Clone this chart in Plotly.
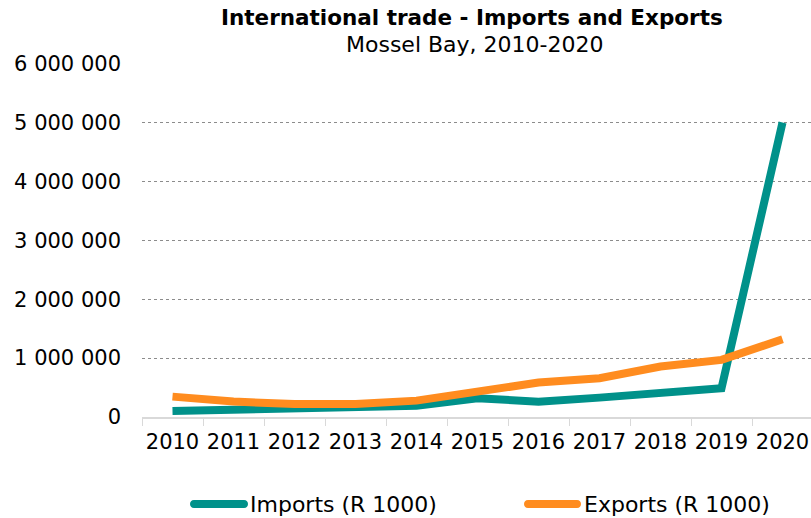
import plotly.graph_objects as go

years = ["2010", "2011", "2012", "2013", "2014", "2015",
         "2016", "2017", "2018", "2019", "2020"]
imports = [102000, 130000, 153000, 170000, 190000, 318000,
           260000, 329000, 420000, 488000, 5000000]
exports = [346000, 262000, 221000, 221000, 278000, 414000,
           584000, 658000, 856000, 970000, 1320000]
series_names = ["Imports (R 1000)", "Exports (R 1000)"]

TEAL = "#00918A"
ORANGE = "#FF8C1F"
FONT = "DejaVu Sans"

W, H = 811, 518
ML, MR, MT, MB = 142, 0, 63, 101
PW, PH = W - ML - MR, H - MT - MB


def px(x):
    return (x - ML) / PW


def py(y):
    return (H - MB - y) / PH


fig = go.Figure()
for vals, name, color in [(imports, series_names[0], TEAL),
                          (exports, series_names[1], ORANGE)]:
    fig.add_trace(go.Scatter(x=years, y=vals, mode="lines", name=name,
                             line=dict(color=color, width=8),
                             showlegend=False))

# Title and subtitle
fig.add_annotation(text="<b>International trade - Imports and Exports</b>",
                   xref="paper", yref="paper", x=px(472), y=py(18),
                   xanchor="center", yanchor="middle", showarrow=False,
                   font=dict(family=FONT, size=21.5, color="#000000"))
fig.add_annotation(text="Mossel Bay, 2010-2020",
                   xref="paper", yref="paper", x=px(475), y=py(44),
                   xanchor="center", yanchor="middle", showarrow=False,
                   font=dict(family=FONT, size=22, color="#000000"))


# Legend: rounded line swatches with labels
def swatch(x0, x1, yc, r, color):
    k = 4 * r / 3
    path = (f"M{px(x0 + r)},{py(yc - r)} L{px(x1 - r)},{py(yc - r)} "
            f"C{px(x1 - r + k)},{py(yc - r)} {px(x1 - r + k)},{py(yc + r)} {px(x1 - r)},{py(yc + r)} "
            f"L{px(x0 + r)},{py(yc + r)} "
            f"C{px(x0 + r - k)},{py(yc + r)} {px(x0 + r - k)},{py(yc - r)} {px(x0 + r)},{py(yc - r)} Z")
    fig.add_shape(type="path", path=path, xref="paper", yref="paper",
                  fillcolor=color, line=dict(width=0))


legend_items = [(190, 248, 248, series_names[0], TEAL),
                (524, 581, 582, series_names[1], ORANGE)]
for x0, x1, tx, name, color in legend_items:
    swatch(x0, x1, 504, 4, color)
    fig.add_annotation(text=name, xref="paper", yref="paper",
                       x=px(tx), y=py(504), xanchor="left", yanchor="middle",
                       showarrow=False, font=dict(family=FONT, size=22, color="#000000"))

fig.update_layout(
    width=W, height=H,
    margin=dict(l=ML, r=MR, t=MT, b=MB, autoexpand=False),
    paper_bgcolor="white", plot_bgcolor="white",
    separators=". ",
    font=dict(family=FONT, size=21, color="#000000"),
    showlegend=False,
)
fig.update_xaxes(
    type="category", range=[-0.5, 10.467], tickson="boundaries",
    ticks="outside", ticklen=7, tickangle=0,
    tickcolor="#d9d9d9", showline=True, linecolor="#d9d9d9", linewidth=1.5,
    showgrid=False, ticklabelstandoff=5, automargin=False,
)
fig.update_yaxes(
    range=[0, 6010000], tickvals=[0, 1000000, 2000000, 3000000, 4000000, 5000000, 6000000],
    tickformat=",d",
    showgrid=True, gridcolor="#8c8c8c", griddash="dot", gridwidth=1,
    zeroline=False, showline=False, ticks="", ticklabelstandoff=20, automargin=False,
)

fig.write_html("out.html")
